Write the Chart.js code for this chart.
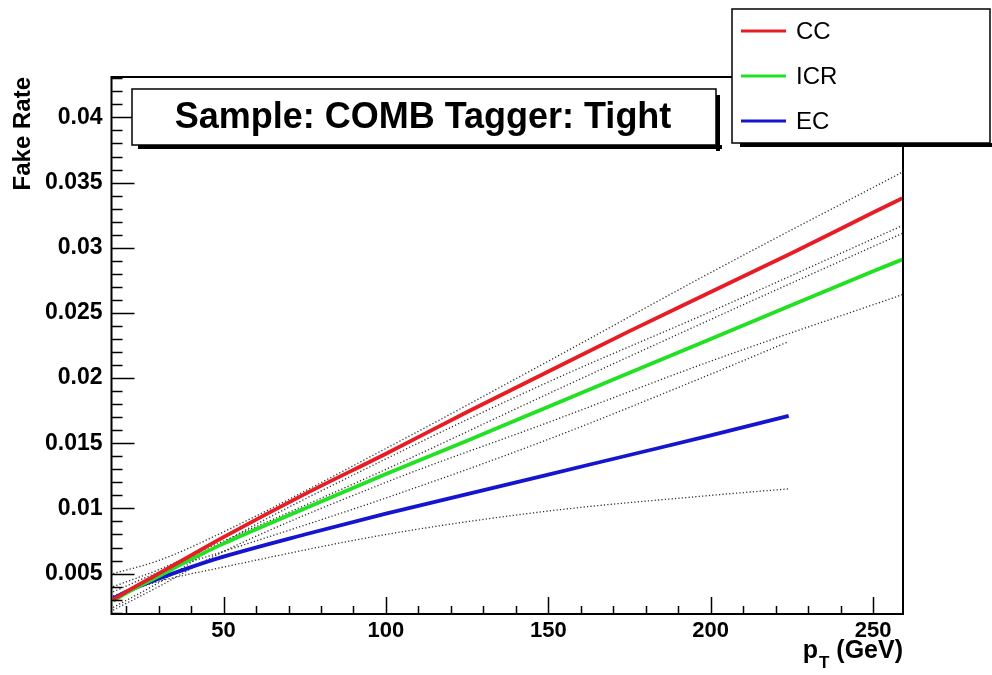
<!DOCTYPE html>
<html><head><meta charset="utf-8">
<script src="https://cdn.jsdelivr.net/npm/chart.js@4.4.0/dist/chart.umd.min.js"></script>
<style>html,body{margin:0;padding:0;background:#fff;}canvas{display:block;}</style>
</head><body>
<canvas id="c" width="992" height="675"></canvas>
<script>
// ---- data ----
const ptCenter = [16, 20, 30, 40, 50, 75, 100, 125, 150, 175, 200, 225, 250, 259];
const rateCC   = [0.0030, 0.0036, 0.0050, 0.0064, 0.0078, 0.0111, 0.0142, 0.0174, 0.0205, 0.0236, 0.0266, 0.0296, 0.0327, 0.0338];
const rateICR  = [0.0029, 0.0035, 0.0048, 0.0061, 0.0073, 0.0100, 0.01265, 0.0152, 0.0178, 0.0204, 0.0230, 0.0256, 0.0282, 0.0291];
const ptEC     = [16, 20, 30, 40, 50, 75, 100, 125, 150, 175, 200, 224];
const rateEC   = [0.0031, 0.0036, 0.0046, 0.0055, 0.0063, 0.0080, 0.0096, 0.0111, 0.0126, 0.0141, 0.0156, 0.0171];

const ptBand   = [16, 30, 50, 100, 150, 200, 259];
const ccUp     = [0.0050, 0.0060, 0.0082, 0.0146, 0.0213, 0.0281, 0.0358];
const ccLo     = [0.0024, 0.0043, 0.0074, 0.0138, 0.0197, 0.0251, 0.0317];
const icrUp    = [0.0040, 0.0053, 0.0075, 0.0130, 0.0188, 0.0245, 0.0311];
const icrLo    = [0.0022, 0.0040, 0.0067, 0.0120, 0.0166, 0.0213, 0.0264];
const ptBandEC = [16, 30, 50, 100, 150, 200, 224];
const ecUp     = [0.0036, 0.0051, 0.0067, 0.0108, 0.0153, 0.0203, 0.0228];
const ecLo     = [0.0033, 0.0044, 0.0055, 0.0080, 0.0098, 0.0110, 0.0115];

const xTickValues = [50, 100, 150, 200, 250];
const xTickLabels = ["50", "100", "150", "200", "250"];
const yTickValues = [0.005, 0.01, 0.015, 0.02, 0.025, 0.03, 0.035, 0.04];
const yTickLabels = ["0.005", "0.01", "0.015", "0.02", "0.025", "0.03", "0.035", "0.04"];

const titleText = "Sample: COMB Tagger: Tight";
const yTitle = "Fake Rate";
const seriesNames = ["CC", "ICR", "EC"];
const seriesColors = ["#e81c24", "#22e022", "#1515d0"];

// ---- chart ----
const FONT = '"Liberation Sans", Arial, Helvetica, sans-serif';
const xy = (xs, ys) => xs.map((x, i) => ({x: x, y: ys[i]}));

function mainLine(i, xs, ys) {
  return {label: seriesNames[i], data: xy(xs, ys), borderColor: seriesColors[i], backgroundColor: seriesColors[i],
    borderWidth: 3.8, pointRadius: 0, cubicInterpolationMode: 'monotone', fill: false, legend: true, order: 1};
}
function bandLine(xs, ys) {
  return {label: '', data: xy(xs, ys), borderColor: 'rgba(20,20,20,0.9)', borderWidth: 1.3, borderDash: [1.2, 2.2],
    pointRadius: 0, cubicInterpolationMode: 'monotone', fill: false, legend: false, order: 2};
}

const decor = {
  id: 'decor',
  afterDraw(chart) {
    const ctx = chart.ctx, a = chart.chartArea, xs = chart.scales.x, ys = chart.scales.y;
    ctx.save();
    // inner tick marks
    ctx.strokeStyle = '#000'; ctx.lineWidth = 1.5;
    ctx.beginPath();
    for (let k = 2; k <= 25; k++) {
      const v = k * 10; if (v < xs.min || v > xs.max) continue;
      const px = Math.round(xs.getPixelForValue(v)) + 0.5;
      const len = (k % 5 === 0) ? 17 : 8;
      ctx.moveTo(px, a.bottom); ctx.lineTo(px, a.bottom - len);
    }
    for (let k = 2; k <= 43; k++) {
      const v = k / 1000; if (v < ys.min || v > ys.max) continue;
      const py = Math.round(ys.getPixelForValue(v)) + 0.5;
      const len = (k % 5 === 0) ? 23 : 11;
      ctx.moveTo(a.left, py); ctx.lineTo(a.left + len, py);
    }
    ctx.stroke();
    // frame
    ctx.lineWidth = 2;
    ctx.strokeRect(a.left, a.top, a.right - a.left, a.bottom - a.top);

    // title box
    const bx = 132, by = 89, bw = 584, bh = 56;
    ctx.fillStyle = '#000';
    ctx.fillRect(bx + 6, by + bh, bw, 4);
    ctx.fillRect(bx + bw, by + 6, 4, bh);
    ctx.fillStyle = '#fff'; ctx.fillRect(bx, by, bw, bh);
    ctx.lineWidth = 1.5; ctx.strokeStyle = '#000'; ctx.strokeRect(bx, by, bw, bh);
    ctx.fillStyle = '#000';
    ctx.font = 'bold 36px ' + FONT; ctx.textAlign = 'center'; ctx.textBaseline = 'middle';
    ctx.fillText(titleText, bx + bw / 2 - 1, by + bh / 2 + 1);

    // legend box
    const lx = 732, ly = 9, lw = 258, lh = 134;
    ctx.fillStyle = '#000';
    ctx.fillRect(lx + 8, ly + lh, lw + 4, 4);
    ctx.fillStyle = '#fff'; ctx.fillRect(lx, ly, lw, lh);
    ctx.lineWidth = 1.5; ctx.strokeRect(lx, ly, lw, lh);
    ctx.font = '24px ' + FONT; ctx.textAlign = 'left'; ctx.textBaseline = 'middle';
    const entries = chart.data.datasets.filter(d => d.legend);
    entries.forEach((d, i) => {
      const yy = 31 + i * 45;
      ctx.strokeStyle = d.borderColor; ctx.lineWidth = 3;
      ctx.beginPath(); ctx.moveTo(741, yy); ctx.lineTo(786, yy); ctx.stroke();
      ctx.fillStyle = '#000'; ctx.fillText(d.label, 796, yy + 1);
    });

    // y title
    ctx.save();
    ctx.translate(23, 77); ctx.rotate(-Math.PI / 2);
    ctx.font = 'bold 24px ' + FONT; ctx.textAlign = 'right'; ctx.textBaseline = 'middle';
    ctx.fillStyle = '#000'; ctx.fillText(yTitle, 0, 0);
    ctx.restore();

    // x title: p_T (GeV), right aligned at frame edge
    ctx.fillStyle = '#000'; ctx.textBaseline = 'alphabetic'; ctx.textAlign = 'left';
    ctx.font = 'bold 25px ' + FONT;
    const rest = ' (GeV)';
    const wRest = ctx.measureText(rest).width;
    const wp = ctx.measureText('p').width;
    ctx.font = 'bold 17px ' + FONT;
    const wT = ctx.measureText('T').width;
    const xEnd = a.right;
    const x0 = xEnd - wRest - wT - wp - 1;
    ctx.font = 'bold 25px ' + FONT;
    ctx.fillText('p', x0, 658);
    ctx.fillText(rest, x0 + wp + wT + 1, 658);
    ctx.font = 'bold 17px ' + FONT;
    ctx.fillText('T', x0 + wp + 1, 668);
    ctx.restore();
  }
};

new Chart(document.getElementById('c'), {
  type: 'line',
  data: {
    datasets: [
      mainLine(0, ptCenter, rateCC),
      mainLine(1, ptCenter, rateICR),
      mainLine(2, ptEC, rateEC),
      bandLine(ptBand, ccUp), bandLine(ptBand, ccLo),
      bandLine(ptBand, icrUp), bandLine(ptBand, icrLo),
      bandLine(ptBandEC, ecUp), bandLine(ptBandEC, ecLo)
    ]
  },
  options: {
    responsive: false, animation: false, devicePixelRatio: 1,
    layout: {padding: {left: 0, top: 77, right: 89, bottom: 0}},
    plugins: {legend: {display: false}, title: {display: false}, tooltip: {enabled: false}},
    scales: {
      x: {
        type: 'linear', min: 15.5, max: 259.2,
        afterBuildTicks: s => { s.ticks = xTickValues.map(v => ({value: v})); },
        afterFit: s => { s.height = 61; },
        ticks: {callback: (v, i) => xTickLabels[i], color: '#000', padding: 4, maxRotation: 0, autoSkip: false,
          font: {family: FONT, size: 22, weight: 'bold'}},
        grid: {display: false, drawTicks: false}, border: {display: false}
      },
      y: {
        type: 'linear', min: 0.0019, max: 0.0431,
        afterBuildTicks: s => { s.ticks = yTickValues.map(v => ({value: v})); },
        afterFit: s => { s.width = 111.5; },
        ticks: {callback: (v, i) => yTickLabels[i], color: '#000', padding: 9, autoSkip: false,
          font: {family: FONT, size: 23, weight: 'bold'}},
        grid: {display: false, drawTicks: false}, border: {display: false}
      }
    }
  },
  plugins: [decor]
});
</script>
</body></html>
